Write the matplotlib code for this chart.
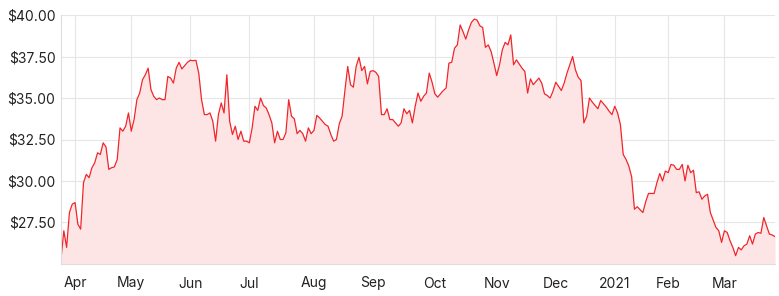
import numpy as np
import pandas as pd
import matplotlib
matplotlib.use('Agg')
import matplotlib.pyplot as plt
from matplotlib.ticker import FuncFormatter


# ASX trading days, 25 Mar 2020 -> 25 Mar 2021
start_date = '2020-03-25'
end_date = '2021-03-25'
asx_holidays = ['2020-04-10', '2020-04-13', '2020-06-08', '2020-12-25',
                '2020-12-28', '2021-01-01', '2021-01-26']

# closing prices, one per trading day
prices = [
    25.3, 27.0, 26.0, 28.1, 28.6, 28.7, 27.4, 27.1, 29.9, 30.4,
    30.2, 30.8, 31.1, 31.7, 31.6, 32.3, 32.05, 30.7, 30.8, 30.85,
    31.3, 33.2, 33.0, 33.3, 34.1, 33.0, 33.7, 34.9, 35.3, 36.1,
    36.4, 36.8, 35.5, 35.1, 34.9, 35.0, 34.9, 34.9, 36.3, 36.2,
    35.9, 36.8, 37.15, 36.75, 36.95, 37.15, 37.27, 37.25, 37.27, 36.5,
    34.9, 34.0, 34.0, 34.1, 33.6, 32.4, 34.0, 34.7, 34.1, 36.4,
    33.6, 32.8, 33.3, 32.5, 33.0, 32.4, 32.4, 32.3, 33.2, 34.5,
    34.25, 35.0, 34.55, 34.4, 34.0, 33.5, 32.3, 33.0, 32.5, 32.5,
    32.9, 34.9, 33.9, 33.75, 32.85, 33.05, 32.85, 32.4, 33.2, 32.85,
    33.05, 33.95, 33.8, 33.6, 33.4, 33.3, 32.8, 32.4, 32.5, 33.45,
    33.9, 35.45, 36.9, 35.8, 35.65, 36.9, 37.45, 36.65, 36.9, 35.85,
    36.6, 36.65, 36.55, 36.3, 34.0, 34.0, 34.35, 33.7, 33.7, 33.5,
    33.3, 33.5, 34.35, 34.05, 34.25, 33.5, 34.5, 35.3, 34.8, 35.1,
    35.3, 36.5, 35.95, 35.25, 35.05, 35.25, 35.45, 35.6, 37.1, 37.15,
    38.0, 38.2, 39.4, 39.0, 38.55, 39.1, 39.55, 39.75, 39.7, 39.35,
    39.25, 38.05, 38.2, 37.8, 37.1, 36.35, 37.0, 37.9, 38.35, 38.2,
    38.8, 37.0, 37.3, 37.05, 36.8, 36.6, 35.3, 36.15, 35.8, 36.0,
    36.2, 35.9, 35.25, 35.15, 35.0, 35.4, 35.95, 35.7, 35.45, 35.9,
    36.5, 37.0, 37.5, 36.7, 36.25, 36.05, 33.5, 33.9, 35.0, 34.75,
    34.55, 34.35, 34.85, 34.65, 34.45, 34.2, 34.0, 34.5, 34.1, 33.4,
    31.6, 31.3, 30.9, 30.25, 28.3, 28.45, 28.27, 28.1, 28.75, 29.25,
    29.25, 29.25, 29.9, 30.45, 30.0, 30.6, 30.5, 31.0, 30.95, 30.7,
    30.7, 31.0, 30.0, 30.95, 30.5, 30.65, 29.3, 29.35, 28.9, 29.1,
    29.2, 28.1, 27.65, 27.2, 27.0, 26.3, 27.0, 26.9, 26.4, 26.0,
    25.5, 26.0, 25.85, 26.1, 26.2, 26.7, 26.2, 26.8, 26.9, 26.85,
    27.8, 27.3, 26.8, 26.75, 26.65,
]

y_ticks = [27.5, 30.0, 32.5, 35.0, 37.5, 40.0]

dates = pd.bdate_range(start_date, end_date)
dates = dates[~dates.isin(pd.to_datetime(asx_holidays))]
idx = np.arange(len(prices))

# first trading day of each month -> tick
month_start = [i for i in range(1, len(dates)) if dates[i].month != dates[i - 1].month]
month_labels = [str(dates[i].year) if dates[i].month == 1 else dates[i].strftime('%b')
                for i in month_start]

plt.rcParams['font.family'] = ['Inter', 'DejaVu Sans']

fig = plt.figure(figsize=(7.79, 2.96), dpi=100)
ax = fig.add_axes([61 / 779, 1 - 264 / 296, 714 / 779, 249 / 296])

line_color = '#f0262b'
ax.fill_between(idx, prices, 25, color='#fee5e5', lw=0, zorder=1)
ax.plot(idx, prices, color=line_color, lw=0.9, zorder=2)

ax.set_xlim(0, len(prices) - 1)
ax.set_ylim(25, 40)
ax.set_yticks(y_ticks)
ax.yaxis.set_major_formatter(FuncFormatter(lambda v, _: f'${v:.2f}'))
ax.set_xticks(month_start)
ax.set_xticklabels(month_labels)

ax.grid(True, color='#e6e6e6', lw=0.8, zorder=0)
ax.set_axisbelow(True)
ax.tick_params(length=0, labelsize=10, colors='#222222')
ax.tick_params(axis='y', pad=4)
ax.tick_params(axis='x', pad=9)
for side in ['top', 'right']:
    ax.spines[side].set_visible(False)
for side in ['left', 'bottom']:
    ax.spines[side].set_color('#dddddd')
    ax.spines[side].set_linewidth(0.8)

plt.savefig('out.png', dpi=100)
plt.close(fig)
